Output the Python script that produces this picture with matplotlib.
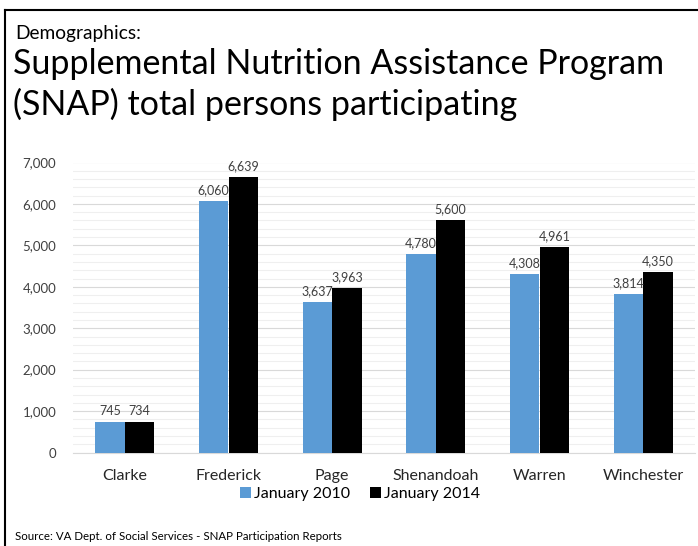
import matplotlib
matplotlib.use("Agg")
import matplotlib.pyplot as plt
import numpy as np
from matplotlib.ticker import MultipleLocator, FuncFormatter
from matplotlib.lines import Line2D

categories = ["Clarke", "Frederick", "Page", "Shenandoah", "Warren", "Winchester"]
jan2010 = [745, 6060, 3637, 4780, 4308, 3814]
jan2014 = [734, 6639, 3963, 5600, 4961, 4350]
series_names = ["January 2010", "January 2014"]
yticks = [0, 1000, 2000, 3000, 4000, 5000, 6000, 7000]

plt.rcParams['font.family'] = ['Lato', 'DejaVu Sans']

W, H = 698, 546
fig = plt.figure(figsize=(W/100, H/100), dpi=100)

def fx(px): return px / W
def fy(py): return 1 - py / H

# border lines (top and left)
fig.add_artist(Line2D([fx(5), fx(698)], [fy(10), fy(10)], color='black', lw=1.5, transform=fig.transFigure))
fig.add_artist(Line2D([fx(5), fx(5)], [fy(10), fy(546)], color='black', lw=1.5, transform=fig.transFigure))

ax = fig.add_axes([fx(73), fy(452.5), fx(695) - fx(73), fy(162.5) - fy(452.5)])

x = np.arange(len(categories))
bw = 0.285
b1 = ax.bar(x - bw/2, jan2010, bw, color='#5B9BD5', label=series_names[0], zorder=3)
b2 = ax.bar(x + bw/2, jan2014, bw, color='#000000', label=series_names[1], zorder=3)

for bars, vals in ((b1, jan2010), (b2, jan2014)):
    for rect, v in zip(bars, vals):
        ax.text(rect.get_x() + rect.get_width()/2, v + 120, f"{v:,}", ha='center', va='bottom',
                fontsize=9, color='#404040', clip_on=False, zorder=4)

ax.set_xlim(-0.5, len(categories) - 0.5)
ax.set_ylim(0, 7000)
ax.set_yticks(yticks)
ax.yaxis.set_major_formatter(FuncFormatter(lambda v, p: f"{int(v):,}"))
ax.yaxis.set_minor_locator(MultipleLocator(200))
ax.grid(axis='y', which='major', color='#D9D9D9', lw=0.8, zorder=0)
ax.grid(axis='y', which='minor', color='#EFEFEF', lw=0.8, zorder=0)
ax.set_xticks(x)
ax.set_xticklabels(categories, fontsize=11.5, color='#262626')
ax.tick_params(axis='x', length=0, pad=12)
ax.tick_params(axis='y', which='both', length=0, labelsize=9.5, labelcolor='#404040', pad=12)
for s in ['top', 'right', 'left']:
    ax.spines[s].set_visible(False)
ax.spines['bottom'].set_color('#D9D9D9')

fig.legend(handles=[b1, b2], labels=series_names, loc='center', bbox_to_anchor=(fx(360), fy(494)),
           ncol=2, frameon=False, fontsize=11.5, handlelength=0.7, handleheight=0.7,
           handletextpad=0.2, columnspacing=1.2)

fig.text(fx(15), fy(34), "Demographics:", fontsize=13.8, va='center', ha='left', color='black')
fig.text(fx(13), fy(64), "Supplemental Nutrition Assistance Program", fontsize=24.5,
         va='center', ha='left', color='black')
fig.text(fx(13), fy(104), "(SNAP) total persons participating", fontsize=24.5,
         va='center', ha='left', color='black')
fig.text(fx(15), fy(537), "Source: VA Dept. of Social Services - SNAP Participation Reports", fontsize=8.3,
         va='center', ha='left', color='black')

fig.savefig("out.png", dpi=100)
